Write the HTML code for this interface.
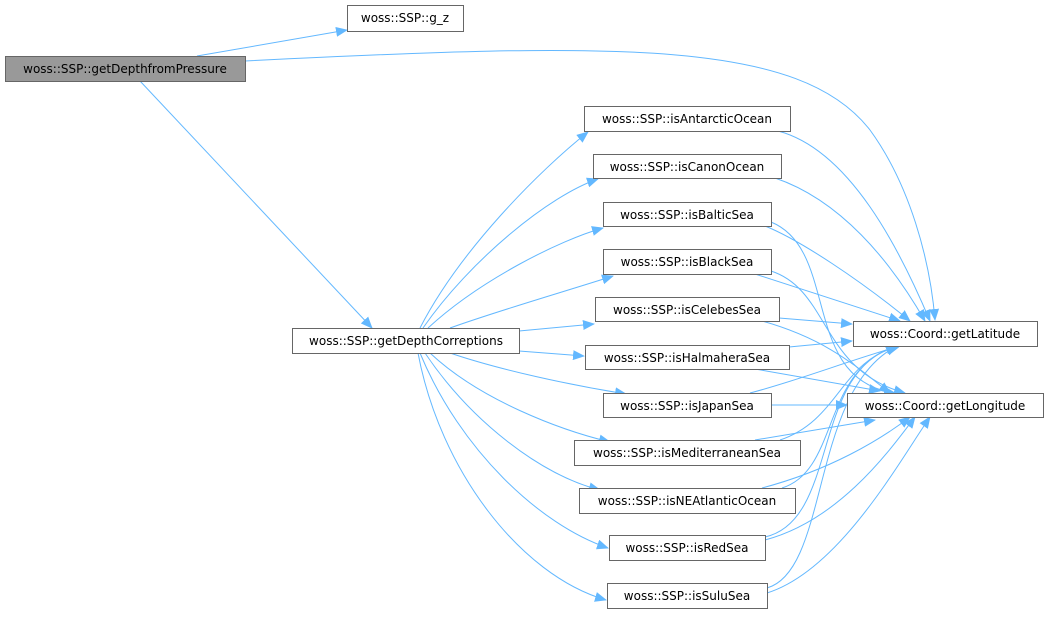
<!DOCTYPE html>
<html><head><meta charset="utf-8"><style>
html,body{margin:0;padding:0;background:#fff;width:1048px;height:631px;overflow:hidden}
svg text{font-family:"DejaVu Sans","Liberation Sans",sans-serif;font-size:12px;fill:#000}
</style></head><body>
<svg width="1048" height="631" viewBox="0 0 1048 631" xmlns="http://www.w3.org/2000/svg">
<defs><marker id="a" markerWidth="12" markerHeight="10" refX="11" refY="5" orient="auto" markerUnits="userSpaceOnUse"><path d="M0,0 L12,5 L0,10 z" fill="#63b8ff"/></marker></defs>
<g fill="none" stroke="#63b8ff" stroke-width="1" marker-end="url(#a)">
<path d="M197,56 L347,30"/>
<path d="M245,61 C620,42 800,40 870,130 C910,185 930,260 935,320"/>
<path d="M140,81 L372,328"/>
<path d="M420,328 C460,250 540,170 588,132"/>
<path d="M423,328 C470,260 550,195 598,179"/>
<path d="M428,328 C480,280 560,240 603,228"/>
<path d="M450,328 C500,310 570,290 613,276"/>
<path d="M519,331 L594,324"/>
<path d="M519,351 L584,356"/>
<path d="M450,353 C500,370 570,385 626,394"/>
<path d="M430,353 C480,400 560,430 610,442"/>
<path d="M425,353 C470,420 540,475 600,490"/>
<path d="M420,353 C460,450 540,525 608,548"/>
<path d="M418,353 C440,470 520,575 606,600"/>
<path d="M778,131 C850,150 900,250 930,321"/>
<path d="M775,178 C840,200 890,260 925,321"/>
<path d="M765,226 C800,240 860,280 910,321"/>
<path d="M771,222 C840,250 800,380 895,393"/>
<path d="M755,274 L900,321"/>
<path d="M771,271 C830,290 820,370 905,393"/>
<path d="M779,318 L852,324"/>
<path d="M762,321 C830,340 860,370 890,393"/>
<path d="M789,347 L852,341"/>
<path d="M755,369 L880,391"/>
<path d="M750,393 C800,380 850,360 900,346"/>
<path d="M771,405 L847,405"/>
<path d="M780,440 C840,420 840,360 900,346"/>
<path d="M755,440 L875,420"/>
<path d="M782,488 C840,470 820,370 897,346"/>
<path d="M762,488 C830,470 880,440 910,417"/>
<path d="M765,537 C840,520 810,370 897,346"/>
<path d="M765,540 C840,520 890,450 915,417"/>
<path d="M767,588 C830,570 810,390 897,346"/>
<path d="M767,593 C840,570 900,460 930,417"/>
</g>
<g stroke="#666" stroke-width="1">
<rect x="5.5" y="56.5" width="240" height="25" fill="#999"/>
<rect x="347.5" y="5.5" width="116" height="26" fill="#fff"/>
<rect x="292.5" y="328.5" width="227" height="25" fill="#fff"/>
<rect x="584.5" y="106.5" width="206" height="25" fill="#fff"/>
<rect x="593.5" y="154.5" width="188" height="24" fill="#fff"/>
<rect x="603.5" y="202.5" width="168" height="24" fill="#fff"/>
<rect x="603.5" y="249.5" width="168" height="25" fill="#fff"/>
<rect x="595.5" y="297.5" width="184" height="24" fill="#fff"/>
<rect x="585.5" y="345.5" width="204" height="24" fill="#fff"/>
<rect x="603.5" y="393.5" width="168" height="24" fill="#fff"/>
<rect x="574.5" y="440.5" width="226" height="25" fill="#fff"/>
<rect x="579.5" y="488.5" width="216" height="25" fill="#fff"/>
<rect x="609.5" y="535.5" width="156" height="25" fill="#fff"/>
<rect x="607.5" y="583.5" width="160" height="25" fill="#fff"/>
<rect x="853.5" y="321.5" width="184" height="25" fill="#fff"/>
<rect x="847.5" y="393.5" width="196" height="24" fill="#fff"/>
</g>
<g text-anchor="middle">
<text x="125" y="73">woss::SSP::getDepthfromPressure</text>
<text x="405" y="22">woss::SSP::g_z</text>
<text x="406" y="345">woss::SSP::getDepthCorreptions</text>
<text x="687" y="123">woss::SSP::isAntarcticOcean</text>
<text x="687" y="171">woss::SSP::isCanonOcean</text>
<text x="687" y="219">woss::SSP::isBalticSea</text>
<text x="687" y="266">woss::SSP::isBlackSea</text>
<text x="687" y="314">woss::SSP::isCelebesSea</text>
<text x="687" y="362">woss::SSP::isHalmaheraSea</text>
<text x="687" y="410">woss::SSP::isJapanSea</text>
<text x="687" y="457">woss::SSP::isMediterraneanSea</text>
<text x="687" y="505">woss::SSP::isNEAtlanticOcean</text>
<text x="687" y="552">woss::SSP::isRedSea</text>
<text x="687" y="600">woss::SSP::isSuluSea</text>
<text x="945" y="338">woss::Coord::getLatitude</text>
<text x="945" y="410">woss::Coord::getLongitude</text>
</g>
</svg>
</body></html>
